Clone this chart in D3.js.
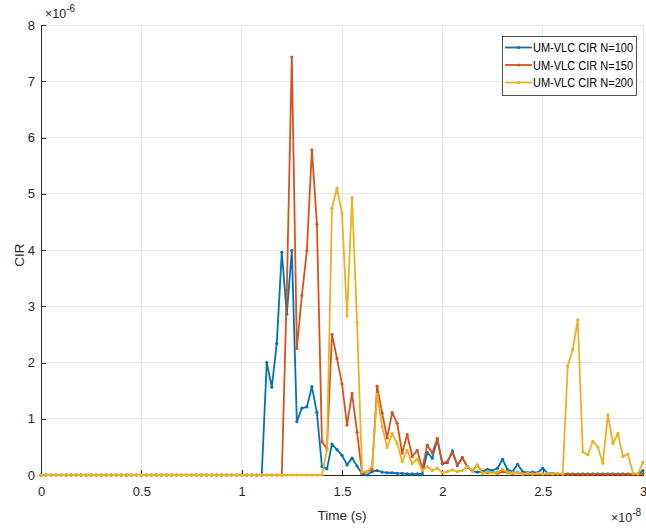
<!DOCTYPE html>
<html>
<head>
<meta charset="utf-8">
<script src="https://cdn.jsdelivr.net/npm/d3@7"></script>
<style>
  html, body { margin: 0; padding: 0; background: #fff; }
  svg { display: block; font-family: "Liberation Sans", Arial, Helvetica, sans-serif; }
</style>
</head>
<body>
<svg id="chart" width="646" height="529"></svg>
<script>
// Channel impulse response samples, 0.25 ns apart from 0 to 30 ns (values in units of 1e-6)
const sampleStep = 0.25e-9;

const cirN100 = [
  0,0,0,0,0,0,0,0,0,0, 0,0,0,0,0,0,0,0,0,0, 0,0,0,0,0,0,0,0,0,0,
  0,0,0,0,0,0,0,0,0,0, 0,0,0,0,0,
  2.00,1.56,2.34,3.96,2.86,3.99,0.95,1.19,1.21,1.57,
  1.11,0.15,0.11,0.55,0.45,0.35,0.18,0.30,0.16,0.02,
  0.00,0.06,0.08,0.05,0.04,0.04,0.03,0.03,0.02,0.02,
  0.02,0.02,0.40,0.30,0.63,0.20,0.22,0.43,0.17,0.31,
  0.14,0.07,0.05,0.06,0.10,0.08,0.12,0.28,0.09,0.06,
  0.19,0.06,0.04,0.05,0.04,0.12,0.03,0.03,0.02,0.01,
  0.01,0.01,0.01,0.01,0.01,0.01,0.01,0.01,0.01,0.01,
  0.01,0.01,0.01,0.01,0.01,0.08
];

const cirN150 = [
  0,0,0,0,0,0,0,0,0,0, 0,0,0,0,0,0,0,0,0,0, 0,0,0,0,0,0,0,0,0,0,
  0,0,0,0,0,0,0,0,0,0, 0,0,0,0,0,0,0,0,0,
  3.28,7.43,2.25,3.19,3.99,5.78,4.46,0.59,0.47,2.50,
  2.07,1.62,0.89,1.45,0.76,0.03,0.06,0.10,1.58,1.10,
  0.66,1.11,0.92,0.39,0.72,0.33,0.44,0.11,0.53,0.39,
  0.65,0.21,0.24,0.40,0.18,0.30,0.15,0.08,0.17,0.05,
  0.04,0.05,0.03,0.06,0.04,0.03,0.05,0.02,0.02,0.02,
  0.02,0.02,0.02,0.02,0.02,0.02,0.02,0.02,0.02,0.02,
  0.02,0.02,0.02,0.02,0.02,0.02,0.02,0.02,0.02,0.02,
  0.02,0.02
];

const cirN200 = [
  0,0,0,0,0,0,0,0,0,0, 0,0,0,0,0,0,0,0,0,0, 0,0,0,0,0,0,0,0,0,0,
  0,0,0,0,0,0,0,0,0,0, 0,0,0,0,0,0,0,0,0,0, 0,0,0,0,0,0,0,
  0.44,4.74,5.10,4.65,2.83,4.93,2.71,0.06,0.06,0.15,
  1.44,0.86,0.49,0.74,0.56,0.24,0.44,0.20,0.28,0.08,
  0.15,0.08,0.12,0.04,0.06,0.09,0.06,0.08,0.15,0.07,
  0.18,0.03,0.06,0.04,0.05,0.10,0.05,0.04,0.05,0.02,
  0.03,0.02,0.03,0.02,0.03,0.02,0.03,0.02,1.94,2.23,
  2.76,0.41,0.36,0.60,0.50,0.21,1.07,0.56,0.74,0.33,
  0.37,0.03,0.02,0.23
];

const seriesNames = ["UM-VLC CIR N=100", "UM-VLC CIR N=150", "UM-VLC CIR N=200"];
const seriesColors = ["#0072BD", "#D95319", "#EDB120"];
const xTicks = [0, 0.5, 1, 1.5, 2, 2.5, 3];      // ×1e-8 s
const yTicks = [0, 1, 2, 3, 4, 5, 6, 7, 8];      // ×1e-6

const svg = d3.select("#chart");
const plotLeft = 41, plotRight = 643, plotTop = 25, plotBottom = 475;

const x = d3.scaleLinear().domain([0, 3e-8]).range([plotLeft, plotRight]);
const y = d3.scaleLinear().domain([0, 8e-6]).range([plotBottom, plotTop]);

const axisColor = "#262626";
const gridColor = "#e6e6e6";

// grid
svg.append("g").selectAll("line").data(xTicks).join("line")
  .attr("x1", d => x(d * 1e-8)).attr("x2", d => x(d * 1e-8))
  .attr("y1", plotTop).attr("y2", plotBottom)
  .attr("stroke", gridColor).attr("stroke-width", 1).attr("shape-rendering", "crispEdges");
svg.append("g").selectAll("line").data(yTicks).join("line")
  .attr("x1", plotLeft).attr("x2", plotRight)
  .attr("y1", d => y(d * 1e-6)).attr("y2", d => y(d * 1e-6))
  .attr("stroke", gridColor).attr("stroke-width", 1).attr("shape-rendering", "crispEdges");

// axes (ticks point inward)
const xAxis = d3.axisBottom(x)
  .tickValues(xTicks.map(d => d * 1e-8))
  .tickFormat((d, i) => String(xTicks[i]))
  .tickSizeInner(-5).tickSizeOuter(0).tickPadding(12);
const gx = svg.append("g").attr("transform", `translate(0,${plotBottom})`).call(xAxis);

const yAxis = d3.axisLeft(y)
  .tickValues(yTicks.map(d => d * 1e-6))
  .tickFormat((d, i) => String(yTicks[i]))
  .tickSizeInner(-5).tickSizeOuter(0).tickPadding(6);
const gy = svg.append("g").attr("transform", `translate(${plotLeft},0)`).call(yAxis);

[gx, gy].forEach(g => {
  g.select(".domain").attr("stroke", axisColor).attr("stroke-width", 1).attr("shape-rendering", "crispEdges");
  g.selectAll(".tick line").attr("stroke", axisColor).attr("shape-rendering", "crispEdges");
  g.selectAll(".tick text").attr("fill", axisColor)
    .style("font-family", "'Liberation Sans', Arial, sans-serif").style("font-size", "13px");
});

// series
const allSeries = [cirN100, cirN150, cirN200];
const line = d3.line()
  .x((d, i) => x(i * sampleStep))
  .y(d => y(d * 1e-6));

allSeries.forEach((vals, k) => {
  const g = svg.append("g");
  g.append("path").datum(vals)
    .attr("d", line)
    .attr("fill", "none")
    .attr("stroke", seriesColors[k])
    .attr("stroke-width", 1.8)
    .attr("stroke-linejoin", "round");
  g.selectAll("circle").data(vals).join("circle")
    .attr("cx", (d, i) => x(i * sampleStep))
    .attr("cy", d => y(d * 1e-6))
    .attr("r", 1.6)
    .attr("fill", seriesColors[k]);
});

// axis labels
svg.append("text")
  .attr("x", (plotLeft + plotRight) / 2).attr("y", 520)
  .attr("text-anchor", "middle").attr("fill", axisColor)
  .style("font-size", "13.5px").text("Time (s)");

svg.append("text")
  .attr("transform", `translate(24,${(plotTop + plotBottom) / 2 + 5}) rotate(-90)`)
  .attr("text-anchor", "middle").attr("fill", axisColor)
  .style("font-size", "13.5px").text("CIR");

// exponent multipliers
function multiplier(px, py, exp) {
  const t = svg.append("text").attr("x", px).attr("y", py).attr("fill", axisColor)
    .style("font-size", "12.5px");
  t.append("tspan").text("\u00d710");
  t.append("tspan").attr("dy", -6).style("font-size", "10px").text(exp);
}
multiplier(45, 18, "-6");
multiplier(611, 522, "-8");

// legend
const lg = svg.append("g").attr("transform", "translate(502,36)");
lg.append("rect").attr("x", 0.5).attr("y", 0.5).attr("width", 134).attr("height", 59)
  .attr("fill", "#fff").attr("stroke", axisColor).attr("stroke-width", 0.8);
seriesNames.forEach((name, k) => {
  const cy = 11.5 + k * 17.5;
  lg.append("line").attr("x1", 3).attr("x2", 30).attr("y1", cy).attr("y2", cy)
    .attr("stroke", seriesColors[k]).attr("stroke-width", 1.8);
  lg.append("circle").attr("cx", 16.5).attr("cy", cy).attr("r", 1.6).attr("fill", seriesColors[k]);
  lg.append("text").attr("x", 31).attr("y", cy + 4.5).attr("fill", "#000")
    .attr("textLength", 100).attr("lengthAdjust", "spacingAndGlyphs")
    .style("font-size", "12.5px").text(name);
});
</script>
</body>
</html>
